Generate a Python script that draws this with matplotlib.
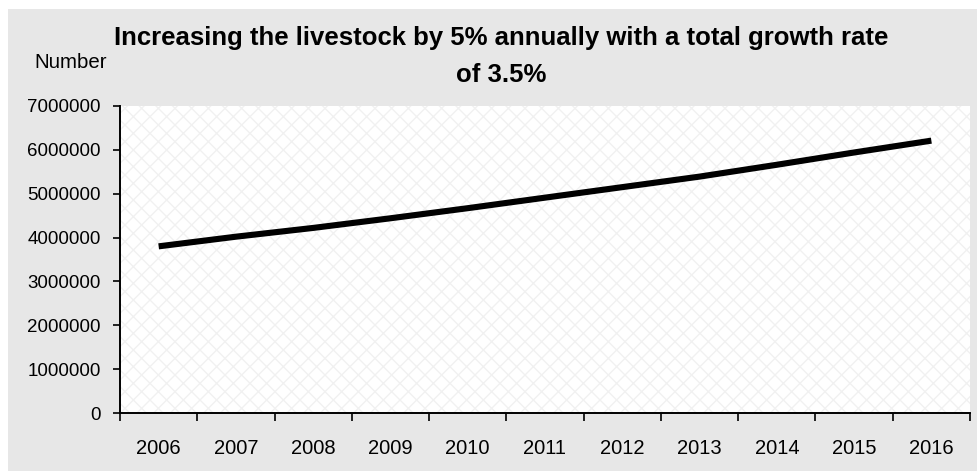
import matplotlib.pyplot as plt
from matplotlib.patches import Rectangle
from matplotlib.ticker import FixedLocator, NullFormatter

# Datos
years = ["2006", "2007", "2008", "2009", "2010", "2011",
         "2012", "2013", "2014", "2015", "2016"]
livestock = [3800000, 4020000, 4220000, 4440000, 4670000, 4910000,
             5150000, 5390000, 5660000, 5940000, 6210000]
y_ticks = [0, 1000000, 2000000, 3000000, 4000000, 5000000, 6000000, 7000000]

TITLE_LINES = ["Increasing the livestock by 5% annually with a total growth rate",
               "of 3.5%"]
FONT = "Liberation Sans"
PANEL_GRAY = "#e7e7e7"

W, H = 977, 472
fig = plt.figure(figsize=(W / 100, H / 100), dpi=100, facecolor="white")

# panel gris de fondo (deja una franja blanca arriba e izquierda)
fig.patches.append(Rectangle((8 / W, 1 / H), 1 - 8 / W, (463 - 1) / H,
                             transform=fig.transFigure, facecolor=PANEL_GRAY,
                             edgecolor="none", zorder=-10))

ax = fig.add_axes([120 / W, (H - 413) / H, (970 - 120) / W, (413 - 106) / H])
ax.set_facecolor("white")
# trama punteada muy suave del area de trazado
ax.add_patch(Rectangle((0, 0), 1, 1, transform=ax.transAxes, facecolor="white",
                       edgecolor="#f1f1f1", hatch="xx", linewidth=0, zorder=0))

x = list(range(len(years)))
ax.plot(x, livestock, color="black", linewidth=4.4, solid_capstyle="butt", zorder=3)

ax.set_xlim(-0.5, len(years) - 0.5)
ax.set_ylim(0, 7000000)

# ticks en los limites de categoria, etiquetas centradas (estilo Excel)
ax.xaxis.set_major_locator(FixedLocator([i - 0.5 for i in range(len(years) + 1)]))
ax.xaxis.set_major_formatter(NullFormatter())
ax.xaxis.set_minor_locator(FixedLocator(x))
ax.set_xticklabels(years, minor=True, fontsize=14.5, fontfamily=FONT)
ax.tick_params(axis="x", which="major", direction="out", length=6, width=1.2, color="black")
ax.tick_params(axis="x", which="minor", length=0, pad=19)

ax.set_yticks(y_ticks)
ax.set_yticklabels([str(v) for v in y_ticks], fontsize=13.5, fontfamily=FONT)
ax.tick_params(axis="y", direction="out", length=5, width=1.2, color="black", pad=9)

for side in ("top", "right"):
    ax.spines[side].set_visible(False)
for side in ("left", "bottom"):
    ax.spines[side].set_linewidth(1.4)
    ax.spines[side].set_color("black")

# titulo en dos lineas con el interlineado del original
for line, base_y in zip(TITLE_LINES, [45, 82]):
    fig.text(501 / W, 1 - base_y / H, line, ha="center", va="baseline",
             fontsize=18.5, fontweight="bold", fontfamily=FONT)
fig.text(107 / W, 1 - 68 / H, "Number", ha="right", va="baseline", fontsize=14.7,
         fontfamily=FONT)

fig.savefig("out.png", dpi=100, facecolor=fig.get_facecolor())
